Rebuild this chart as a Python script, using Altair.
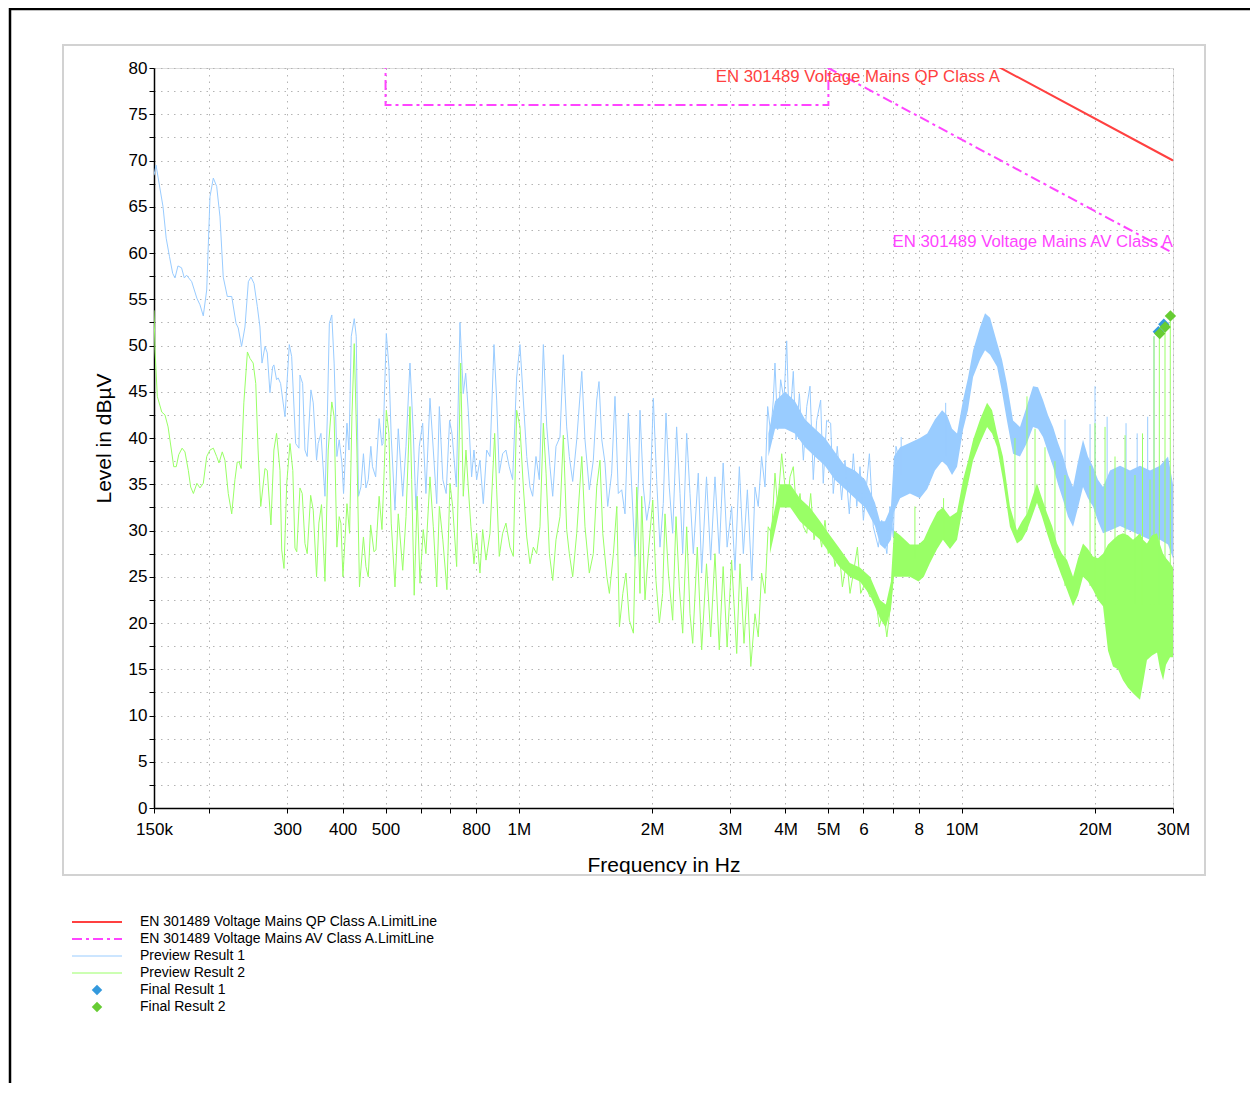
import altair as alt
import pandas as pd

# ---------------- colours / fonts ----------------
BLUE = "#99CCFF"
GREEN = "#99FF66"
RED = "#FF4040"
MAGENTA = "#FF44FF"
FBLUE = "#3399DD"
FGREEN = "#66CC33"
FONT = "Liberation Sans"

# ---------------- data (frequency in MHz, level in dBµV) ----------------
# Preview Result 1 (blue) – individually resolved part of the trace
p1_points = [
    (0.1500, 68.4), (0.1516, 69.5), (0.1572, 65.0), (0.1598, 61.6), (0.1626, 59.6), (0.1653, 57.8),
    (0.1673, 57.3), (0.1699, 58.6), (0.1731, 58.4), (0.1756, 57.3), (0.1777, 57.6), (0.1825, 56.9),
    (0.1875, 55.1), (0.1905, 54.4), (0.1938, 53.2), (0.1973, 56.0), (0.2007, 66.1), (0.2042, 68.1),
    (0.2078, 67.2), (0.2114, 63.9), (0.2150, 57.4), (0.2196, 55.3), (0.2247, 55.3), (0.2298, 52.4),
    (0.2324, 51.9), (0.2365, 49.9), (0.2407, 52.0), (0.2450, 56.9), (0.2484, 57.4), (0.2523, 56.7),
    (0.2567, 54.2), (0.2602, 52.0), (0.2630, 48.1), (0.2671, 49.9), (0.2703, 49.2), (0.2741, 44.9),
    (0.2780, 47.7), (0.2798, 47.9), (0.2837, 46.3), (0.2861, 46.5), (0.2897, 45.9), (0.2964, 42.3),
    (0.3031, 50.1), (0.3069, 48.8), (0.3133, 39.4), (0.3187, 38.9), (0.3204, 46.8), (0.3249, 45.9),
    (0.3288, 38.7), (0.3327, 38.0), (0.3392, 45.2), (0.3433, 43.8), (0.3493, 37.6), (0.3522, 39.4),
    (0.3573, 40.5), (0.3649, 33.7), (0.3694, 42.3), (0.3733, 52.4), (0.3781, 53.3), (0.3827, 48.1),
    (0.3882, 38.0), (0.3929, 39.8), (0.3985, 37.3), (0.4019, 34.0), (0.4091, 41.6), (0.4134, 38.7),
    (0.4184, 51.0), (0.4249, 52.9), (0.4293, 51.0), (0.4344, 33.7), (0.4398, 34.7), (0.4457, 38.3),
    (0.4515, 34.6), (0.4570, 35.5), (0.4632, 39.1), (0.4672, 36.9), (0.4749, 35.8), (0.4836, 42.1),
    (0.4908, 39.2), (0.4934, 39.4), (0.5020, 51.3), (0.5088, 47.7), (0.5150, 40.1), (0.5251, 32.2),
    (0.5342, 41.0), (0.5467, 33.7), (0.5561, 39.1), (0.5677, 48.1), (0.5776, 40.5), (0.5857, 32.2),
    (0.5958, 39.1), (0.6064, 41.6), (0.6168, 34.0), (0.6299, 44.3), (0.6409, 38.7), (0.6524, 32.9),
    (0.6614, 43.4), (0.6734, 35.5), (0.6853, 34.0), (0.6975, 41.9), (0.7063, 40.5), (0.7225, 34.7),
    (0.7362, 52.5), (0.7490, 44.8), (0.7584, 47.0), (0.7686, 43.0), (0.7822, 35.8), (0.7918, 38.7),
    (0.8030, 35.5), (0.8169, 37.6), (0.8311, 32.9), (0.8459, 38.7), (0.8605, 38.0), (0.8787, 50.1),
    (0.8910, 44.1), (0.9031, 36.2), (0.9191, 38.3), (0.9351, 38.7), (0.9513, 36.9), (0.9682, 35.5),
    (0.9886, 46.6), (1.0058, 50.1), (1.0235, 44.1), (1.0418, 38.0), (1.0595, 34.7), (1.0745, 33.7),
    (1.0931, 38.0), (1.1122, 35.5), (1.1358, 50.1), (1.1562, 41.2), (1.1756, 36.9), (1.1924, 33.7),
    (1.2129, 39.1), (1.2383, 40.1), (1.2600, 49.0), (1.2823, 41.2), (1.3000, 38.0), (1.3230, 35.3),
    (1.3510, 39.8), (1.3870, 47.2), (1.4103, 39.8), (1.4425, 34.4), (1.4727, 37.6), (1.4990, 44.1),
    (1.5170, 46.1), (1.5390, 39.8), (1.5649, 37.3), (1.5870, 32.6), (1.6200, 36.2), (1.6484, 44.5),
    (1.6770, 34.0), (1.7070, 34.4), (1.7364, 31.8), (1.7670, 42.7), (1.7980, 34.7), (1.8291, 27.2),
    (1.8610, 35.1), (1.8772, 43.0), (1.9100, 34.7), (1.9440, 31.1), (1.9774, 33.3), (2.0120, 44.3),
    (2.0470, 35.5), (2.0830, 28.2), (2.1190, 32.9), (2.1490, 42.7), (2.1860, 34.7), (2.2250, 29.7),
    (2.2710, 41.2), (2.3113, 34.0), (2.3440, 27.5), (2.3930, 40.5), (2.4346, 34.0), (2.4770, 27.5),
    (2.5420, 36.2), (2.5870, 25.4), (2.6530, 35.8), (2.7110, 26.8), (2.7726, 35.8), (2.8350, 27.5),
    (2.8930, 37.3), (2.9530, 28.2), (3.0230, 32.6), (3.0765, 25.7), (3.1470, 36.9), (3.2130, 27.5),
    (3.2810, 34.4), (3.3580, 24.6), (3.4136, 34.7), (3.4720, 32.6), (3.5330, 38.0), (3.5958, 34.7),
    (3.6460, 43.4), (3.7040, 40.5), (3.7550, 44.1), (3.7877, 48.1), (3.8400, 40.9), (3.9010, 46.3),
    (3.9690, 44.1), (4.0250, 50.5), (4.0800, 40.9), (4.1660, 47.2), (4.2260, 39.8), (4.3000, 44.8),
    (4.3900, 37.6), (4.4680, 43.4), (4.5438, 45.6), (4.6220, 35.5), (4.7040, 41.9), (4.8030, 44.1),
    (4.8680, 35.1), (4.9540, 41.9), (5.0590, 41.6), (5.1280, 34.0), (5.2360, 39.1), (5.3560, 33.3),
    (5.4508, 37.6), (5.5740, 31.8), (5.6930, 38.3), (5.7950, 32.6), (5.8929, 36.9), (5.9980, 31.1),
    (6.1880, 38.3), (6.3150, 30.4), (6.4820, 28.2), (6.5960, 31.1), (6.7760, 27.5), (6.8877, 32.6),
    (7.0080, 29.3), (7.1050, 39.1), (7.2310, 37.6),
]

# Preview Result 1 – dense part read as an envelope (freq, lower, upper)
p1_band = [
    (3.66, 38.0, 40.5), (3.79, 41.0, 44.0), (3.99, 41.0, 45.0), (4.20, 40.5, 44.0), (4.43, 39.0, 42.0),
    (4.66, 38.0, 41.0), (4.91, 37.0, 40.0), (5.17, 35.5, 38.5), (5.45, 34.5, 37.0), (5.74, 33.5, 36.5),
    (6.05, 32.5, 35.5), (6.37, 30.5, 33.0), (6.54, 28.5, 31.0), (6.71, 28.0, 31.0), (6.92, 29.0, 32.5),
    (7.03, 32.0, 38.0), (7.26, 33.5, 39.0), (7.64, 34.0, 39.5), (8.05, 33.5, 40.0), (8.36, 34.5, 40.5),
    (8.70, 36.5, 42.0), (9.03, 37.5, 43.0), (9.26, 37.0, 42.5), (9.51, 36.0, 41.0), (9.76, 36.9, 40.5),
    (10.07, 40.9, 44.1), (10.33, 43.0, 46.5), (10.61, 46.6, 49.5), (11.00, 48.5, 52.0), (11.29, 49.5, 53.5),
    (11.59, 49.0, 53.0), (12.02, 47.7, 50.3), (12.33, 45.0, 48.5), (12.65, 41.9, 45.9), (13.06, 38.3, 41.9),
    (13.54, 38.0, 41.2), (14.04, 39.5, 43.5), (14.49, 41.2, 45.6), (14.87, 41.0, 45.5), (15.26, 40.1, 44.1),
    (15.66, 38.5, 42.5), (16.08, 36.9, 41.2), (16.50, 35.0, 39.5), (16.94, 33.3, 38.0), (17.38, 31.5, 36.0),
    (17.84, 30.4, 34.7), (18.31, 32.5, 37.5), (18.79, 34.7, 39.8), (19.28, 33.5, 38.0), (19.79, 32.6, 36.9),
    (20.31, 31.0, 35.5), (20.85, 29.7, 34.7), (21.62, 30.0, 36.5), (22.78, 30.5, 37.0), (23.99, 30.0, 36.5),
    (25.27, 29.5, 37.0), (26.62, 29.0, 36.5), (28.04, 29.0, 37.0), (29.23, 28.5, 38.0), (30.00, 27.0, 35.0),
]

# Preview Result 1 – isolated spikes (freq, base, top)
p1_spikes = [
    (7.30, 36.0, 40.1), (8.90, 38.0, 41.6), (9.20, 38.0, 43.8),
    (17.11, 33.0, 42.0), (19.49, 33.0, 41.5), (20.00, 32.0, 45.6), (21.30, 30.0, 42.3),
    (23.50, 30.0, 41.6), (24.90, 30.0, 40.5), (26.30, 30.0, 42.3), (27.18, 30.0, 51.0),
]

# Preview Result 2 (green) – individually resolved part of the trace
p2_points = [
    (0.1500, 53.8), (0.1508, 49.5), (0.1526, 44.5), (0.1562, 42.8), (0.1588, 42.5), (0.1614, 41.2),
    (0.1642, 38.7), (0.1662, 36.9), (0.1684, 36.9), (0.1706, 38.2), (0.1736, 38.9), (0.1762, 38.5),
    (0.1793, 36.5), (0.1815, 34.7), (0.1841, 34.0), (0.1875, 35.1), (0.1905, 34.6), (0.1938, 35.1),
    (0.1973, 38.0), (0.2007, 38.7), (0.2042, 38.9), (0.2078, 38.0), (0.2103, 37.3), (0.2139, 38.5),
    (0.2169, 37.6), (0.2207, 34.0), (0.2247, 31.8), (0.2285, 35.5), (0.2312, 37.4), (0.2336, 37.4),
    (0.2360, 36.7), (0.2393, 43.8), (0.2438, 49.3), (0.2471, 48.6), (0.2512, 48.1), (0.2546, 45.9),
    (0.2577, 38.7), (0.2613, 32.6), (0.2671, 36.7), (0.2703, 36.5), (0.2755, 30.6), (0.2798, 38.7),
    (0.2837, 40.5), (0.2888, 36.5), (0.2914, 27.9), (0.2949, 25.9), (0.2991, 35.1), (0.3042, 39.4),
    (0.3087, 36.5), (0.3122, 28.1), (0.3151, 27.7), (0.3204, 34.6), (0.3242, 34.0), (0.3288, 28.6),
    (0.3327, 27.5), (0.3387, 33.8), (0.3433, 32.2), (0.3493, 25.0), (0.3535, 30.8), (0.3584, 32.8),
    (0.3649, 24.5), (0.3711, 38.7), (0.3781, 43.9), (0.3827, 42.3), (0.3882, 28.2), (0.3929, 31.5),
    (0.3964, 30.8), (0.4006, 25.0), (0.4091, 32.9), (0.4147, 29.7), (0.4198, 42.3), (0.4249, 50.2),
    (0.4308, 38.7), (0.4366, 23.9), (0.4457, 29.3), (0.4515, 26.1), (0.4570, 25.0), (0.4627, 30.6),
    (0.4707, 27.7), (0.4756, 27.9), (0.4836, 33.7), (0.4908, 30.1), (0.4968, 36.9), (0.5020, 43.0),
    (0.5088, 40.5), (0.5150, 30.8), (0.5251, 23.9), (0.5342, 31.8), (0.5467, 25.7), (0.5561, 31.5),
    (0.5677, 43.4), (0.5727, 35.5), (0.5803, 23.0), (0.5894, 33.7), (0.5980, 24.3), (0.6082, 30.1),
    (0.6168, 27.5), (0.6299, 35.8), (0.6409, 30.4), (0.6524, 23.9), (0.6614, 32.6), (0.6734, 29.0),
    (0.6879, 23.6), (0.6989, 35.1), (0.7087, 32.6), (0.7237, 26.1), (0.7389, 48.1), (0.7490, 33.7),
    (0.7595, 38.7), (0.7686, 34.7), (0.7794, 30.4), (0.7918, 26.4), (0.8030, 29.7), (0.8169, 25.4),
    (0.8285, 30.1), (0.8428, 26.8), (0.8605, 29.7), (0.8818, 40.5), (0.8910, 34.4), (0.9031, 27.2),
    (0.9191, 29.7), (0.9351, 30.8), (0.9548, 28.2), (0.9716, 27.2), (0.9886, 43.0), (1.0058, 41.2),
    (1.0235, 34.7), (1.0418, 29.3), (1.0595, 26.4), (1.0780, 28.2), (1.0970, 27.5), (1.1160, 30.4),
    (1.1358, 41.6), (1.1520, 36.2), (1.1720, 27.5), (1.1924, 24.6), (1.2129, 29.0), (1.2383, 31.5),
    (1.2600, 40.3), (1.2823, 30.1), (1.3000, 27.5), (1.3230, 25.0), (1.3510, 29.7), (1.3870, 38.0),
    (1.4103, 30.4), (1.4425, 25.4), (1.4727, 27.5), (1.4990, 34.7), (1.5247, 37.6), (1.5470, 29.7),
    (1.5800, 25.0), (1.6010, 23.2), (1.6350, 27.5), (1.6640, 32.6), (1.6870, 19.6), (1.7170, 23.2),
    (1.7450, 25.4), (1.7760, 20.3), (1.8140, 18.9), (1.8460, 34.7), (1.8772, 23.2), (1.8940, 33.7),
    (1.9267, 22.5), (1.9600, 27.5), (2.0060, 33.3), (2.0400, 24.6), (2.0760, 20.0), (2.1120, 23.2),
    (2.1378, 31.8), (2.1760, 25.4), (2.2250, 20.3), (2.2640, 31.5), (2.3030, 23.9), (2.3440, 18.9),
    (2.3930, 30.4), (2.4346, 21.0), (2.4690, 17.8), (2.5290, 28.2), (2.5870, 17.1), (2.6530, 26.4),
    (2.7110, 18.5), (2.7726, 27.5), (2.8350, 17.1), (2.8930, 26.1), (2.9530, 17.4), (3.0230, 26.8),
    (3.1040, 16.7), (3.1575, 26.4), (3.2240, 17.8), (3.2810, 23.9), (3.3400, 15.3), (3.4136, 21.0),
    (3.4720, 18.5), (3.5330, 25.4), (3.5958, 23.2), (3.6560, 30.4), (3.7210, 29.7), (3.7877, 36.2),
    (3.8400, 32.6), (3.9220, 38.3), (3.9750, 35.5), (4.0360, 32.6), (4.0950, 35.8), (4.1660, 36.9),
    (4.2400, 31.8), (4.3136, 34.0), (4.3900, 30.4), (4.4680, 29.7), (4.5600, 34.0), (4.6400, 29.0),
    (4.7200, 31.1), (4.8280, 28.2), (4.9124, 31.1), (4.9970, 27.5), (5.0860, 29.0), (5.1746, 26.1),
    (5.2850, 27.9), (5.3780, 23.9), (5.5010, 26.8), (5.5944, 23.2), (5.6930, 25.4), (5.8140, 28.2),
    (5.9140, 23.2), (6.0482, 24.3), (6.2075, 22.8), (6.3710, 23.2), (6.5160, 19.6), (6.6560, 21.4),
    (6.7760, 18.5), (6.9130, 22.1), (7.0340, 26.1), (7.2000, 27.5),
]

# Preview Result 2 – dense part read as an envelope (freq, lower, upper)
p2_band = [
    (3.69, 27.5, 30.0), (3.89, 32.5, 35.0), (4.10, 32.5, 35.0), (4.31, 31.0, 33.5), (4.54, 30.0, 32.5),
    (4.79, 29.0, 31.0), (5.04, 27.5, 29.5), (5.31, 26.0, 28.0), (5.59, 25.0, 26.5), (5.89, 24.5, 26.0),
    (6.21, 23.0, 25.0), (6.54, 20.5, 22.5), (6.74, 19.5, 22.0), (6.92, 21.5, 24.5), (7.03, 25.0, 30.0),
    (7.26, 25.0, 29.5), (7.64, 25.0, 28.5), (7.99, 24.5, 28.5), (8.21, 25.0, 29.0), (8.48, 26.5, 30.5),
    (8.80, 28.0, 32.0), (9.07, 29.0, 32.5), (9.41, 28.0, 31.5), (9.76, 29.0, 32.0), (10.07, 32.6, 35.5),
    (10.33, 35.0, 37.5), (10.61, 37.6, 39.8), (11.00, 39.5, 42.0), (11.41, 41.2, 43.8), (11.71, 40.5, 43.0),
    (12.02, 39.0, 40.5), (12.39, 35.5, 38.0), (12.85, 30.4, 32.6), (13.33, 28.6, 30.0), (13.68, 29.0, 31.0),
    (14.04, 30.0, 31.8), (14.41, 31.5, 33.5), (14.79, 33.0, 35.1), (15.18, 31.5, 33.5), (15.58, 29.7, 31.9),
    (16.00, 28.0, 30.5), (16.42, 26.4, 28.6), (16.84, 25.0, 27.5), (17.29, 23.6, 26.8), (17.84, 21.8, 25.0),
    (18.31, 23.0, 27.0), (18.79, 25.0, 28.6), (19.28, 24.5, 28.0), (19.79, 23.6, 27.2), (20.31, 22.5, 27.0),
    (20.85, 21.8, 27.5), (21.40, 17.0, 28.5), (21.96, 15.3, 29.0), (22.54, 15.0, 29.5), (23.13, 13.8, 29.7),
    (23.74, 13.0, 29.5), (24.37, 12.4, 29.0), (25.01, 11.9, 29.5), (25.27, 11.7, 29.7), (25.67, 13.5, 29.0),
    (26.20, 16.0, 28.6), (26.90, 16.5, 29.5), (27.61, 16.8, 29.7), (28.04, 15.0, 28.5), (28.50, 13.8, 27.5),
    (28.93, 15.5, 27.0), (29.54, 16.3, 26.5), (30.00, 16.3, 26.0),
]

# Preview Result 2 – isolated spikes (freq, base, top)
p2_spikes = [
    (7.84, 27.0, 32.6), (9.10, 29.0, 33.5), (13.19, 30.0, 40.0), (14.04, 30.0, 44.5), (14.64, 33.0, 41.0),
    (15.42, 31.0, 39.0), (16.24, 27.0, 37.5), (17.11, 24.0, 36.0), (19.49, 24.0, 37.0), (20.00, 24.0, 41.6),
    (21.07, 22.0, 41.2), (22.19, 22.0, 38.0), (23.38, 22.0, 40.3), (24.62, 22.0, 36.0), (25.60, 22.0, 40.5),
    (26.62, 22.0, 35.5), (27.18, 22.0, 51.0), (27.94, 22.0, 51.3), (28.78, 22.0, 52.0), (29.58, 22.0, 53.0),
]

# Limit lines
qp_freq = [0.15, 0.5, 0.5, 5.0, 30.0]
qp_level = [100.0, 100.0, 90.0, 90.0, 70.0]
av_freq = [0.15, 0.5, 0.5, 5.0, 5.0, 30.0]
av_level = [90.0, 90.0, 76.0, 76.0, 80.0, 60.0]

qp_label = "EN 301489 Voltage Mains QP Class A"
qp_label_at = (12.2, 79.0)
av_label = "EN 301489 Voltage Mains AV Class A"
av_label_at = (30.0, 61.2)

# Final results
final1_freq = [27.8, 28.6]
final1_level = [51.5, 52.3]
final2_freq = [28.0, 28.8, 29.6]
final2_level = [51.3, 52.0, 53.2]

# Axis ticks
x_tick_values = [0.15, 0.2, 0.3, 0.4, 0.5, 0.6, 0.7, 0.8, 1, 2, 3, 4, 5, 6, 7, 8, 10, 20, 30]
x_tick_labels = ["150k", "", "300", "400", "500", "", "", "800", "1M", "2M", "3M", "4M",
                 "5M", "6", "", "8", "10M", "20M", "30M"]
y_tick_values = [0, 2.5, 5, 7.5, 10, 12.5, 15, 17.5, 20, 22.5, 25, 27.5, 30, 32.5, 35, 37.5,
                 40, 42.5, 45, 47.5, 50, 52.5, 55, 57.5, 60, 62.5, 65, 67.5, 70, 72.5, 75, 77.5, 80]

legend_labels = [
    "EN 301489 Voltage Mains QP Class A.LimitLine",
    "EN 301489 Voltage Mains AV Class A.LimitLine",
    "Preview Result 1",
    "Preview Result 2",
    "Final Result 1",
    "Final Result 2",
]

# ---------------- scales / axes ----------------
def label_expr(values, labels):
    expr = "''"
    for v, lab in reversed(list(zip(values, labels))):
        expr = f"datum.value == {v} ? '{lab}' : ({expr})"
    return expr

xscale = alt.Scale(type="log", domain=[0.15, 30], nice=False)
yscale = alt.Scale(domain=[0, 80], nice=False, zero=False)

GRID = dict(grid=True, gridDash=[1.5, 5], gridColor="#b4b4b4", gridWidth=1)
COMMON = dict(domainColor="black", domainWidth=1.5, tickColor="black", tickWidth=1, tickSize=5,
              labelFont=FONT, labelFontSize=17, labelColor="black", labelFlush=False,
              labelOverlap=False, titleFont=FONT, titleFontSize=21, titleFontWeight="normal",
              titleColor="black")

xaxis = alt.Axis(values=x_tick_values, labelExpr=label_expr(x_tick_values, x_tick_labels),
                 title="Frequency in Hz", labelPadding=8, titlePadding=17, **GRID, **COMMON)
yaxis = alt.Axis(values=y_tick_values, labelExpr="datum.value % 5 == 0 ? datum.label : ''",
                 title="Level in dBµV", labelPadding=2, titlePadding=14, **GRID, **COMMON)


def X(field="f"):
    return alt.X(f"{field}:Q", scale=xscale, axis=xaxis)


def Y(field):
    return alt.Y(f"{field}:Q", scale=yscale, axis=yaxis)


def pts_df(points):
    return pd.DataFrame(points, columns=["f", "v"])


def band_df(rows):
    return pd.DataFrame(rows, columns=["f", "lo", "hi"])


one = pd.DataFrame({"k": [0]})
layers = []

# decorative frame (outer black border, inner grey box)
layers.append(alt.Chart(one).mark_rule(color="black", strokeWidth=2.5).encode(
    x=alt.value(-144), y=alt.value(-60), y2=alt.value(1015)))
layers.append(alt.Chart(one).mark_rule(color="black", strokeWidth=2.5).encode(
    x=alt.value(-145), x2=alt.value(1096), y=alt.value(-59)))
layers.append(alt.Chart(one).mark_rect(fillOpacity=0, stroke="#d2d2d2", strokeWidth=2).encode(
    x=alt.value(-91), x2=alt.value(1051), y=alt.value(-23), y2=alt.value(807)))

# Preview Result 1
layers.append(alt.Chart(band_df(p1_band)).mark_area(color=BLUE, opacity=1, clip=True).encode(
    x=X(), y=Y("lo"), y2="hi"))
layers.append(alt.Chart(pts_df(p1_points)).mark_line(color=BLUE, strokeWidth=1, clip=True).encode(
    x=X(), y=Y("v")))
layers.append(alt.Chart(band_df(p1_spikes)).mark_rule(color=BLUE, strokeWidth=1, clip=True).encode(
    x=X(), y=Y("lo"), y2="hi"))

# Preview Result 2
layers.append(alt.Chart(band_df(p2_band)).mark_area(color=GREEN, opacity=1, clip=True).encode(
    x=X(), y=Y("lo"), y2="hi"))
layers.append(alt.Chart(pts_df(p2_points)).mark_line(color=GREEN, strokeWidth=1, clip=True).encode(
    x=X(), y=Y("v")))
layers.append(alt.Chart(band_df(p2_spikes)).mark_rule(color=GREEN, strokeWidth=1, clip=True).encode(
    x=X(), y=Y("lo"), y2="hi"))

# Limit lines
qp_df = pd.DataFrame({"f": qp_freq, "v": qp_level, "i": range(len(qp_freq))})
av_df = pd.DataFrame({"f": av_freq, "v": av_level, "i": range(len(av_freq))})
layers.append(alt.Chart(qp_df).mark_line(color=RED, strokeWidth=2, clip=True).encode(
    x=X(), y=Y("v"), order="i:Q"))
layers.append(alt.Chart(av_df).mark_line(color=MAGENTA, strokeWidth=2, strokeDash=[10, 4, 3, 4],
                                          clip=True).encode(x=X(), y=Y("v"), order="i:Q"))

# Limit labels
for text, at, col in [(qp_label, qp_label_at, RED), (av_label, av_label_at, MAGENTA)]:
    df = pd.DataFrame({"f": [at[0]], "v": [at[1]]})
    layers.append(alt.Chart(df).mark_text(text=text, align="right", baseline="middle", font=FONT,
                                          fontSize=16.8, color=col).encode(x=X(), y=Y("v")))

# Final results
layers.append(alt.Chart(pd.DataFrame({"f": final1_freq, "v": final1_level})).mark_point(
    shape="diamond", filled=True, size=130, color=FBLUE, opacity=1).encode(x=X(), y=Y("v")))
layers.append(alt.Chart(pd.DataFrame({"f": final2_freq, "v": final2_level})).mark_point(
    shape="diamond", filled=True, size=130, color=FGREEN, opacity=1).encode(x=X(), y=Y("v")))

# Legend (drawn below the framed plot)
LEG_Y0, LEG_DY = 854, 17
for i, lab in enumerate(legend_labels):
    layers.append(alt.Chart(one).mark_text(text=lab, align="left", baseline="middle", font=FONT,
                                           fontSize=14, color="black").encode(
        x=alt.value(-14), y=alt.value(LEG_Y0 + i * LEG_DY)))
leg_lines = [(RED, 2, None), (MAGENTA, 2, [10, 4, 3, 4]), (BLUE, 1, None), (GREEN, 1, None)]
for i, (col, w, dash) in enumerate(leg_lines):
    kw = dict(color=col, strokeWidth=w)
    if dash:
        kw["strokeDash"] = dash
    layers.append(alt.Chart(one).mark_rule(**kw).encode(
        x=alt.value(-82), x2=alt.value(-32), y=alt.value(LEG_Y0 + i * LEG_DY)))
for i, col in [(4, FBLUE), (5, FGREEN)]:
    layers.append(alt.Chart(one).mark_point(shape="diamond", filled=True, size=110, color=col,
                                            opacity=1).encode(
        x=alt.value(-57), y=alt.value(LEG_Y0 + i * LEG_DY)))

chart = alt.layer(*layers).properties(
    width=1019, height=740,
    padding={"left": 146, "top": 60, "right": 77, "bottom": 275},
    autosize=alt.AutoSizeParams(type="none"),
).configure_view(strokeWidth=0).configure(background="white")

chart.save("out.html", embed_options={"renderer": "svg", "actions": False})
